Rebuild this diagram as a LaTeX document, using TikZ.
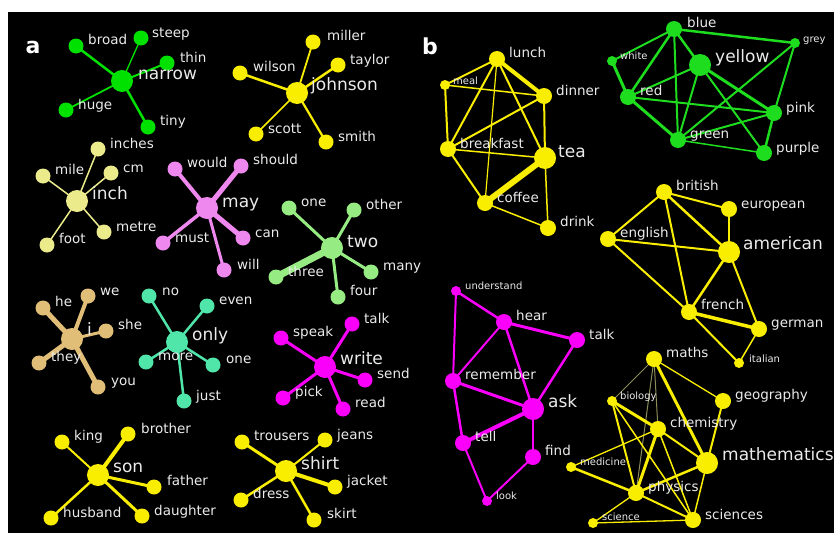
\documentclass[tikz,border=0pt]{standalone}
\usepackage{fontspec}
\setmainfont{DejaVu Sans}
\pgfdeclarelayer{back}
\pgfdeclarelayer{edges}
\pgfsetlayers{back,edges,main}
\definecolor{gA}{RGB}{0,225,0}
\definecolor{yel}{RGB}{250,238,0}
\definecolor{pal}{RGB}{235,235,140}
\definecolor{pnk}{RGB}{238,136,238}
\definecolor{lgr}{RGB}{150,235,130}
\definecolor{tan}{RGB}{225,190,120}
\definecolor{aqu}{RGB}{80,230,170}
\definecolor{mag}{RGB}{250,0,250}
\definecolor{grn}{RGB}{30,220,30}
\definecolor{olv}{RGB}{140,140,90}
\definecolor{labc}{RGB}{235,235,235}
\tikzset{
  L/.style={circle,inner sep=0pt,minimum size=15pt,fill=#1},
  M/.style={circle,inner sep=0pt,minimum size=16pt,fill=#1},
  H/.style={circle,inner sep=0pt,minimum size=22pt,fill=#1},
  S/.style={circle,inner sep=0pt,minimum size=10pt,fill=#1},
  lab/.style={anchor=west,text=labc,inner sep=0pt,text height=0.75em,text depth=0.2em,font=\fontsize{13.5}{15}\selectfont},
  hl/.style={lab,font=\fontsize{17}{19}\selectfont},
  sl/.style={lab,font=\fontsize{10}{11}\selectfont},
  panel/.style={text=white,font=\bfseries\fontsize{22}{24}\selectfont,inner sep=0pt}
}
\newcommand\vx[8]{\node[#1] (#2) at (#3,#4) {}; \node[#5] (#2l) at (#6,#7) {#8};}
\newcommand\ed[4]{\draw[#1,line width=#2pt] (#3.center) -- (#4.center);}
\begin{document}
\begin{tikzpicture}[x=1pt,y=-1pt]
\begin{pgfonlayer}{back}
\fill[white] (0,0) rectangle (834,533);
\fill[black] (8,12) rectangle (834,533);
\end{pgfonlayer}
\useasboundingbox (0,0) rectangle (834,533);
\node[panel] (pa) at (33,47) {a};
\node[panel] (pb) at (430,46) {b};
% ---------- panel a ----------
% narrow
\vx{L=gA}{broad}{76}{46}{lab}{88}{42}{broad}
\vx{L=gA}{steep}{141}{38}{lab}{152}{35}{steep}
\vx{L=gA}{thin}{167}{63}{lab}{180}{60}{thin}
\vx{H=gA}{narrow}{122}{81}{hl}{138}{77}{narrow}
\vx{L=gA}{huge}{66}{110}{lab}{78}{107}{huge}
\vx{L=gA}{tiny}{148}{127}{lab}{160}{123}{tiny}
% johnson
\vx{L=yel}{miller}{313}{42}{lab}{327}{38}{miller}
\vx{L=yel}{wilson}{240}{73}{lab}{253}{69}{wilson}
\vx{L=yel}{taylor}{338}{65}{lab}{350}{62}{taylor}
\vx{H=yel}{johnson}{297}{93}{hl}{311}{88}{johnson}
\vx{L=yel}{scott}{256}{134}{lab}{268}{131}{scott}
\vx{L=yel}{smith}{326}{142}{lab}{338}{139}{smith}
% inch
\vx{L=pal}{inches}{98}{149}{lab}{110}{146}{inches}
\vx{L=pal}{mile}{43}{176}{lab}{55}{172}{mile}
\vx{L=pal}{cm}{111}{173}{lab}{123}{170}{cm}
\vx{H=pal}{inch}{77}{201}{hl}{92}{197}{inch}
\vx{L=pal}{metre}{104}{232}{lab}{116}{229}{metre}
\vx{L=pal}{foot}{47}{245}{lab}{59}{241}{foot}
% may
\vx{L=pnk}{would}{175}{169}{lab}{187}{165}{would}
\vx{L=pnk}{should}{241}{166}{lab}{253}{162}{should}
\vx{H=pnk}{may}{207}{208}{hl}{222}{205}{may}
\vx{L=pnk}{must}{163}{243}{lab}{175}{240}{must}
\vx{L=pnk}{can}{243}{238}{lab}{255}{235}{can}
\vx{L=pnk}{will}{224}{270}{lab}{237}{267}{will}
% two
\vx{L=lgr}{oneA}{289}{208}{lab}{301}{204}{one}
\vx{L=lgr}{other}{354}{210}{lab}{366}{207}{other}
\vx{H=lgr}{two}{332}{248}{hl}{347}{245}{two}
\vx{L=lgr}{many}{371}{272}{lab}{383}{268}{many}
\vx{L=lgr}{three}{276}{277}{lab}{288}{274}{three}
\vx{L=lgr}{four}{338}{297}{lab}{350}{293}{four}
% i
\vx{L=tan}{he}{43}{308}{lab}{55}{304}{he}
\vx{L=tan}{we}{88}{296}{lab}{100}{293}{we}
\vx{H=tan}{ii}{72}{339}{hl}{87}{333}{i}
\vx{L=tan}{she}{106}{331}{lab}{118}{327}{she}
\vx{L=tan}{they}{39}{363}{lab}{51}{359}{they}
\vx{L=tan}{you}{98}{387}{lab}{111}{383}{you}
% only
\vx{L=aqu}{no}{149}{296}{lab}{162}{293}{no}
\vx{L=aqu}{even}{207}{306}{lab}{219}{302}{even}
\vx{H=aqu}{only}{177}{342}{hl}{192}{338}{only}
\vx{L=aqu}{more}{146}{362}{lab}{158}{358}{more}
\vx{L=aqu}{oneB}{213}{365}{lab}{226}{361}{one}
\vx{L=aqu}{just}{184}{401}{lab}{196}{398}{just}
% write
\vx{L=mag}{speak}{281}{338}{lab}{293}{334}{speak}
\vx{L=mag}{talkA}{352}{324}{lab}{364}{321}{talk}
\vx{H=mag}{write}{325}{367}{hl}{340}{362}{write}
\vx{L=mag}{send}{365}{380}{lab}{377}{376}{send}
\vx{L=mag}{pick}{283}{398}{lab}{295}{394}{pick}
\vx{L=mag}{read}{343}{409}{lab}{355}{405}{read}
% son
\vx{L=yel}{king}{62}{442}{lab}{74}{438}{king}
\vx{L=yel}{brother}{128}{434}{lab}{141}{431}{brother}
\vx{H=yel}{son}{98}{475}{hl}{113}{470}{son}
\vx{L=yel}{father}{154}{487}{lab}{167}{483}{father}
\vx{L=yel}{husband}{51}{518}{lab}{63}{515}{husband}
\vx{L=yel}{daughter}{142}{516}{lab}{154}{513}{daughter}
% shirt
\vx{L=yel}{trousers}{242}{442}{lab}{254}{438}{trousers}
\vx{L=yel}{jeans}{325}{440}{lab}{337}{437}{jeans}
\vx{H=yel}{shirt}{286}{471}{hl}{301}{467}{shirt}
\vx{L=yel}{jacket}{335}{487}{lab}{347}{483}{jacket}
\vx{L=yel}{dress}{241}{500}{lab}{253}{496}{dress}
\vx{L=yel}{skirt}{314}{520}{lab}{327}{516}{skirt}
% ---------- panel b ----------
% food
\vx{M=yel}{lunch}{497}{59}{lab}{509}{55}{lunch}
\vx{S=yel}{meal}{445}{85}{sl}{453}{82}{meal}
\vx{M=yel}{dinner}{544}{96}{lab}{556}{93}{dinner}
\vx{M=yel}{breakfast}{448}{149}{lab}{460}{146}{breakfast}
\vx{H=yel}{tea}{545}{158}{hl}{558}{155}{tea}
\vx{M=yel}{coffee}{485}{203}{lab}{497}{200}{coffee}
\vx{M=yel}{drink}{548}{228}{lab}{560}{224}{drink}
% colours
\vx{M=grn}{blue}{674}{29}{lab}{687}{25}{blue}
\vx{S=grn}{grey}{795}{43}{sl}{803}{40}{grey}
\vx{S=grn}{white}{612}{61}{sl}{620}{57}{white}
\vx{H=grn}{yellow}{700}{65}{hl}{715}{60}{yellow}
\vx{M=grn}{red}{628}{97}{lab}{640}{93}{red}
\vx{M=grn}{pink}{774}{113}{lab}{786}{110}{pink}
\vx{M=grn}{green}{678}{140}{lab}{690}{136}{green}
\vx{M=grn}{purple}{764}{153}{lab}{776}{150}{purple}
% countries
\vx{M=yel}{british}{664}{192}{lab}{676}{188}{british}
\vx{M=yel}{european}{729}{209}{lab}{741}{206}{european}
\vx{M=yel}{english}{608}{239}{lab}{620}{235}{english}
\vx{H=yel}{american}{729}{252}{hl}{743}{247}{american}
\vx{M=yel}{french}{689}{312}{lab}{701}{307}{french}
\vx{M=yel}{german}{759}{329}{lab}{771}{325}{german}
\vx{S=yel}{italian}{739}{363}{sl}{749}{360}{italian}
% ask
\vx{S=mag}{understand}{456}{291}{sl}{465}{287}{understand}
\vx{M=mag}{hear}{504}{322}{lab}{516}{318}{hear}
\vx{M=mag}{talkB}{577}{340}{lab}{589}{337}{talk}
\vx{M=mag}{remember}{453}{381}{lab}{465}{377}{remember}
\vx{H=mag}{ask}{533}{409}{hl}{548}{405}{ask}
\vx{M=mag}{tell}{463}{443}{lab}{475}{439}{tell}
\vx{M=mag}{find}{533}{457}{lab}{545}{453}{find}
\vx{S=mag}{look}{487}{501}{sl}{496}{497}{look}
% science
\vx{M=yel}{maths}{654}{359}{lab}{666}{355}{maths}
\vx{M=yel}{geography}{723}{401}{lab}{735}{397}{geography}
\vx{S=yel}{biology}{612}{401}{sl}{620}{397}{biology}
\vx{M=yel}{chemistry}{658}{429}{lab}{670}{425}{chemistry}
\vx{H=yel}{mathematics}{707}{463}{hl}{722}{458}{mathematics}
\vx{S=yel}{medicine}{571}{467}{sl}{580}{463}{medicine}
\vx{M=yel}{physics}{636}{493}{lab}{648}{489}{physics}
\vx{S=yel}{science}{593}{523}{sl}{602}{518}{science}
\vx{M=yel}{sciences}{693}{520}{lab}{705}{517}{sciences}
\begin{pgfonlayer}{edges}
% narrow
\ed{gA}{2.5}{narrow}{broad}\ed{gA}{1.3}{narrow}{steep}\ed{gA}{2}{narrow}{thin}
\ed{gA}{1.8}{narrow}{huge}\ed{gA}{2.5}{narrow}{tiny}
% johnson
\ed{yel}{1.8}{johnson}{miller}\ed{yel}{2.5}{johnson}{taylor}\ed{yel}{2.5}{johnson}{wilson}
\ed{yel}{1.5}{johnson}{scott}\ed{yel}{2.2}{johnson}{smith}
% inch
\ed{pal}{1.5}{inch}{inches}\ed{pal}{1.5}{inch}{mile}\ed{pal}{1.5}{inch}{cm}
\ed{pal}{1.5}{inch}{metre}\ed{pal}{1.5}{inch}{foot}
% may
\ed{pnk}{4}{may}{would}\ed{pnk}{5}{may}{should}\ed{pnk}{3.5}{may}{must}
\ed{pnk}{5}{may}{can}\ed{pnk}{3}{may}{will}
% two
\ed{lgr}{3}{two}{oneA}\ed{lgr}{3}{two}{other}\ed{lgr}{3}{two}{many}
\ed{lgr}{7}{two}{three}\ed{lgr}{3}{two}{four}
% i
\ed{tan}{5}{ii}{he}\ed{tan}{4}{ii}{we}\ed{tan}{3}{ii}{she}
\ed{tan}{5}{ii}{they}\ed{tan}{5}{ii}{you}
% only
\ed{aqu}{2.5}{only}{no}\ed{aqu}{2.5}{only}{even}\ed{aqu}{2.5}{only}{more}
\ed{aqu}{2.5}{only}{oneB}\ed{aqu}{2.5}{only}{just}
% write
\ed{mag}{3}{write}{speak}\ed{mag}{3}{write}{talkA}\ed{mag}{3}{write}{send}
\ed{mag}{3}{write}{pick}\ed{mag}{3}{write}{read}
% son
\ed{yel}{2}{son}{king}\ed{yel}{4}{son}{brother}\ed{yel}{3}{son}{father}
\ed{yel}{2.5}{son}{husband}\ed{yel}{3}{son}{daughter}
% shirt
\ed{yel}{3}{shirt}{trousers}\ed{yel}{2}{shirt}{jeans}\ed{yel}{4}{shirt}{jacket}
\ed{yel}{2.5}{shirt}{dress}\ed{yel}{2.5}{shirt}{skirt}
% food
\ed{yel}{2}{lunch}{meal}\ed{yel}{4}{lunch}{dinner}\ed{yel}{2}{lunch}{breakfast}
\ed{yel}{1.2}{lunch}{coffee}\ed{yel}{2}{lunch}{tea}\ed{yel}{1.5}{meal}{dinner}
\ed{yel}{2}{meal}{breakfast}\ed{yel}{2}{dinner}{breakfast}\ed{yel}{2}{dinner}{tea}
\ed{yel}{1.5}{breakfast}{tea}\ed{yel}{2}{breakfast}{coffee}\ed{yel}{6}{tea}{coffee}
\ed{yel}{1.5}{tea}{drink}\ed{yel}{1.5}{coffee}{drink}
% colours
\ed{grn}{2.5}{blue}{grey}\ed{grn}{2}{blue}{white}\ed{grn}{2.5}{blue}{red}
\ed{grn}{2}{blue}{green}\ed{grn}{2.5}{blue}{yellow}\ed{grn}{2}{yellow}{red}
\ed{grn}{2}{yellow}{green}\ed{grn}{3}{yellow}{pink}\ed{grn}{2}{yellow}{purple}
\ed{grn}{2}{grey}{pink}\ed{grn}{2}{grey}{green}\ed{grn}{3}{red}{white}
\ed{grn}{3}{red}{green}\ed{grn}{2}{red}{pink}\ed{grn}{2}{green}{pink}
\ed{grn}{1.5}{green}{purple}\ed{grn}{2.5}{pink}{purple}
% countries
\ed{yel}{2}{british}{european}\ed{yel}{2}{british}{english}\ed{yel}{2.5}{british}{american}
\ed{yel}{2}{british}{french}\ed{yel}{2}{english}{american}\ed{yel}{2}{english}{french}
\ed{yel}{2}{european}{american}\ed{yel}{2.5}{american}{french}\ed{yel}{2}{american}{german}
\ed{yel}{3.5}{french}{german}\ed{yel}{2}{french}{italian}\ed{yel}{1.5}{german}{italian}
% ask
\ed{mag}{2.5}{understand}{hear}\ed{mag}{2}{understand}{remember}\ed{mag}{3}{hear}{talkB}
\ed{mag}{2}{hear}{remember}\ed{mag}{2.5}{hear}{ask}\ed{mag}{2.5}{talkB}{ask}
\ed{mag}{3}{remember}{ask}\ed{mag}{2.5}{remember}{tell}\ed{mag}{4}{ask}{tell}
\ed{mag}{2.5}{ask}{find}\ed{mag}{2}{tell}{look}\ed{mag}{2}{find}{look}
% science
\ed{yel}{1.3}{maths}{geography}\ed{olv}{1}{maths}{biology}\ed{olv}{1}{maths}{chemistry}
\ed{olv}{1}{maths}{physics}\ed{yel}{3}{maths}{mathematics}\ed{yel}{3}{biology}{chemistry}
\ed{yel}{2}{biology}{physics}\ed{yel}{1.5}{biology}{sciences}\ed{yel}{1.3}{chemistry}{medicine}
\ed{yel}{3}{chemistry}{physics}\ed{yel}{2}{chemistry}{mathematics}\ed{yel}{1.5}{chemistry}{sciences}
\ed{yel}{2}{mathematics}{geography}\ed{yel}{2.5}{mathematics}{physics}\ed{yel}{1.5}{mathematics}{sciences}
\ed{yel}{2.5}{physics}{medicine}\ed{yel}{1.3}{physics}{science}\ed{yel}{2}{physics}{sciences}
\ed{yel}{1.3}{science}{sciences}
\end{pgfonlayer}
\end{tikzpicture}
\end{document}
